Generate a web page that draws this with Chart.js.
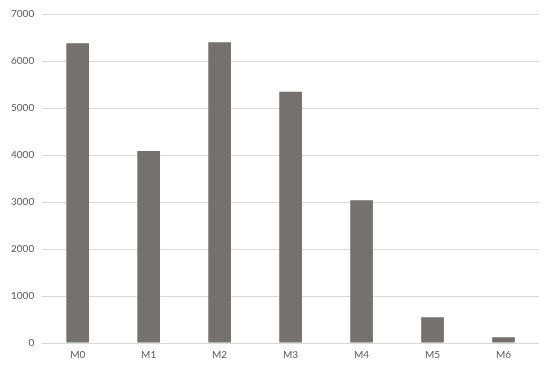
<!DOCTYPE html>
<html>
<head>
<meta charset="utf-8">
<script src="https://cdn.jsdelivr.net/npm/chart.js@4"></script>
<style>
  html, body { margin: 0; padding: 0; background: #fff; }
  #wrap { width: 550px; height: 367px; }
</style>
</head>
<body>
<div id="wrap"><canvas id="grafico"></canvas></div>
<script>
const categorias = ["M0", "M1", "M2", "M3", "M4", "M5", "M6"];
const valores = [6380, 4085, 6400, 5345, 3035, 550, 125];

const ctx = document.getElementById("grafico").getContext("2d");

const chart = new Chart(ctx, {
    type: "bar",
    data: {
        labels: categorias,
        datasets: [{
            data: valores,
            backgroundColor: "#767171",
            categoryPercentage: 1,
            barPercentage: 0.32
        }]
    },
    options: {
        responsive: true,
        maintainAspectRatio: false,
        animation: false,
        layout: { padding: { left: 3, right: 11, top: 8, bottom: 0 } },
        plugins: {
            legend: { display: false },
            tooltip: { enabled: false }
        },
        scales: {
            x: {
                grid: { display: false, drawTicks: false },
                border: { display: false },
                ticks: { color: "#595959", font: { family: "Lato", size: 10 }, padding: 6 }
            },
            y: {
                min: 0,
                max: 7000,
                ticks: {
                    stepSize: 1000,
                    color: "#595959",
                    font: { family: "Lato", size: 10 },
                    padding: 8,
                    callback: v => String(v)
                },
                grid: { color: "#d9d9d9", lineWidth: 1, drawTicks: false },
                border: { display: false }
            }
        }
    }
});
</script>
</body>
</html>
